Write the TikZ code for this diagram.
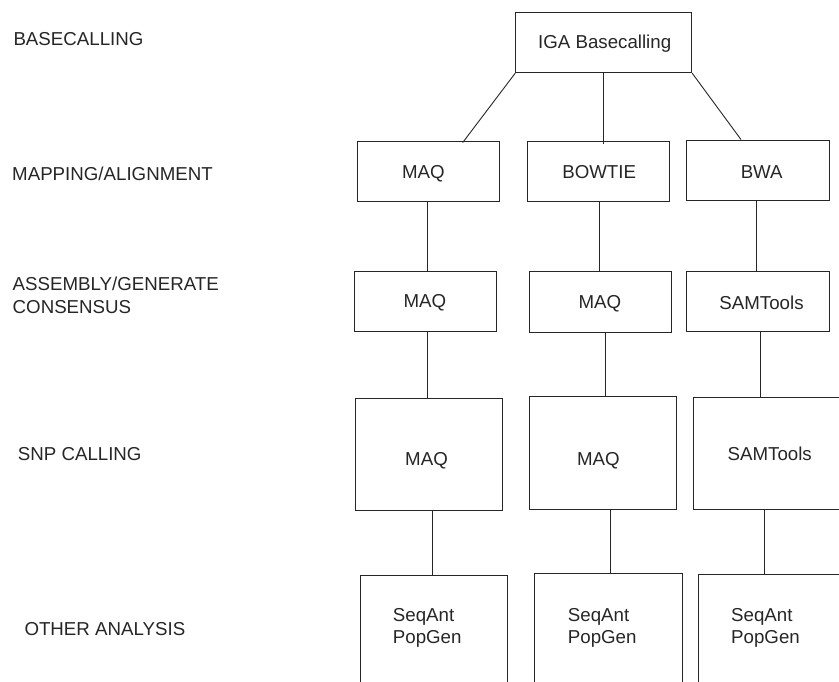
\documentclass[tikz,border=0pt]{standalone}
\usepackage{fontspec}
\setmainfont{Liberation Sans}
\begin{document}
\begin{tikzpicture}[x=1pt,y=-1pt,
  ink/.style={black!85},
  boxn/.style={draw=black!85,line width=0.9pt,rectangle,inner sep=0pt},
  txt/.style={ink,inner sep=0pt,font=\fontsize{18.7}{22}\selectfont},
  lbl/.style={txt,anchor=base west},
  ctr/.style={txt,anchor=base},
  con/.style={draw=black!85,line width=0.9pt}]
\useasboundingbox (0,0) rectangle (839,681);
\clip (0,0) rectangle (839,681);
% left labels
\node[lbl] (L1) at (13.3,45) {BASECALLING};
\node[lbl] (L2) at (12,180) {MAPPING/ALIGNMENT};
\node[lbl] (L3) at (12.5,290) {ASSEMBLY/GENERATE};
\node[lbl] (L3b) at (12.5,313) {CONSENSUS};
\node[lbl] (L4) at (17.7,460) {SNP CALLING};
\node[lbl] (L5) at (24.3,635.3) {OTHER ANALYSIS};
% boxes
\node[boxn,minimum width=176.7pt,minimum height=60pt] (iga) at (603.35,42.7) {};
\node[boxn,minimum width=142pt,minimum height=60.7pt] (m1) at (428.3,171.35) {};
\node[boxn,minimum width=141.6pt,minimum height=60pt] (bow) at (598.5,171) {};
\node[boxn,minimum width=142.3pt,minimum height=60.7pt] (bwa) at (757.85,170.35) {};
\node[boxn,minimum width=142.4pt,minimum height=60pt] (m2) at (425.5,301) {};
\node[boxn,minimum width=142.7pt,minimum height=60.3pt] (m2b) at (600.35,301.85) {};
\node[boxn,minimum width=142.6pt,minimum height=60pt] (s2) at (758,301.7) {};
\node[boxn,minimum width=147.7pt,minimum height=111.7pt] (m3) at (428.85,454.15) {};
\node[boxn,minimum width=147.7pt,minimum height=112.6pt] (m3b) at (602.85,453) {};
\node[boxn,minimum width=156.7pt,minimum height=111.7pt] (s3) at (771.65,453.15) {};
\node[boxn,minimum width=147.7pt,minimum height=125pt] (r4a) at (433.85,637.5) {};
\node[boxn,minimum width=148pt,minimum height=126.3pt] (r4b) at (608.3,636.85) {};
\node[boxn,minimum width=151.7pt,minimum height=126pt] (r4c) at (774.15,637) {};
% box texts
\node[ctr] (tiga) at (604.7,48.3) {IGA Basecalling};
\node[ctr] (tm1) at (423.3,178.3) {MAQ};
\node[ctr] (tbow) at (599.2,178.3) {BOWTIE};
\node[ctr] (tbwa) at (761.7,178) {BWA};
\node[ctr] (tm2) at (424.8,307) {MAQ};
\node[ctr] (tm2b) at (599.8,308) {MAQ};
\node[ctr] (ts2) at (761.5,309) {SAMTools};
\node[ctr] (tm3) at (426.5,465) {MAQ};
\node[ctr] (tm3b) at (598.3,465) {MAQ};
\node[ctr] (ts3) at (769.7,460) {SAMTools};
\node[txt,anchor=base west,align=left] (t4a) at (392.7,643.5) {SeqAnt\\PopGen};
\node[txt,anchor=base west,align=left] (t4b) at (567.7,643.5) {SeqAnt\\PopGen};
\node[txt,anchor=base west,align=left] (t4c) at (731,643.5) {SeqAnt\\PopGen};
% connectors
\draw[con] ([xshift=0.7pt]iga.south west) -- ([xshift=34.4pt,yshift=-2pt]m1.north);
\draw[con] (iga.south) -- ([yshift=-3pt]iga.south |- bow.north);
\draw[con] (iga.south east) -- ([xshift=-16.85pt]bwa.north);
\draw[con] ([xshift=-1pt]m1.south) -- ([xshift=-1pt]m1.south |- m2.north);
\draw[con] ([xshift=0.5pt]bow.south) -- ([xshift=0.5pt]bow.south |- m2b.north);
\draw[con] ([xshift=-1.15pt]bwa.south) -- ([xshift=-1.15pt]bwa.south |- s2.north);
\draw[con] ([xshift=1.8pt]m2.south) -- ([xshift=1.8pt]m2.south |- m3.north);
\draw[con] ([xshift=4.65pt]m2b.south) -- ([xshift=4.65pt]m2b.south |- m3b.north);
\draw[con] ([xshift=2pt]s2.south) -- ([xshift=2pt]s2.south |- s3.north);
\draw[con] ([xshift=3.85pt]m3.south) -- ([xshift=3.85pt]m3.south |- r4a.north);
\draw[con] ([xshift=7.15pt]m3b.south) -- ([xshift=7.15pt]m3b.south |- r4b.north);
\draw[con] ([xshift=71.7pt]s3.south west) -- ([xshift=71.7pt]s3.south west |- r4c.north);
\end{tikzpicture}
\end{document}
